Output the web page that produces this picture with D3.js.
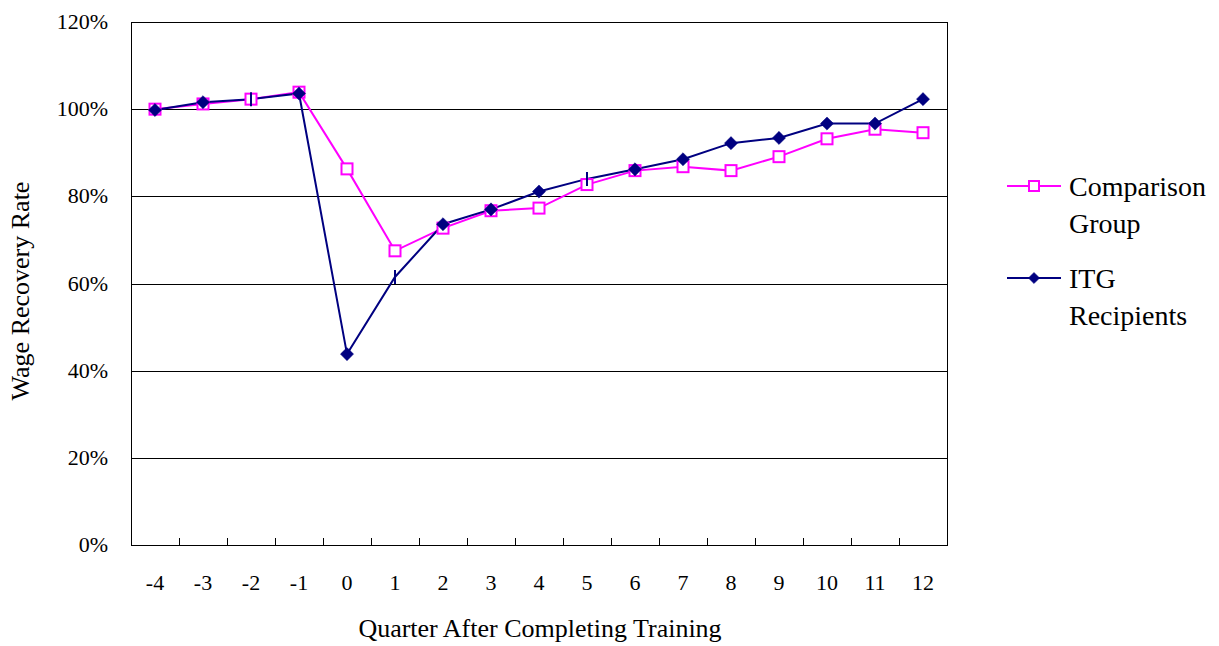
<!DOCTYPE html>
<html>
<head>
<meta charset="utf-8">
<script src="https://cdn.jsdelivr.net/npm/d3@7"></script>
<style>
  body { margin: 0; background: #fff; }
</style>
</head>
<body>
<svg id="chart" width="1219" height="646" font-family="'Liberation Serif', 'Times New Roman', 'DejaVu Serif', serif"></svg>
<script>
// Data
var quarters = ["-4", "-3", "-2", "-1", "0", "1", "2", "3", "4", "5", "6", "7", "8", "9", "10", "11", "12"];
var comparisonGroup = [100.0, 101.2, 102.3, 103.9, 86.3, 67.5, 72.7, 76.7, 77.3, 82.7, 85.9, 86.8, 85.9, 89.1, 93.2, 95.4, 94.6];
var itgRecipients = [99.8, 101.6, 102.3, 103.6, 43.8, 61.5, 73.6, 77.0, 81.1, 84.0, 86.2, 88.5, 92.2, 93.4, 96.7, 96.7, 102.3];
var yTicks = [0, 20, 40, 60, 80, 100, 120];

// Layout
var svg = d3.select("#chart");
var plot = { left: 131, top: 22, right: 947, bottom: 545 };

var xScale = d3.scaleBand().domain(quarters).range([plot.left, plot.right]);
var yScale = d3.scaleLinear().domain([0, 120]).range([plot.bottom, plot.top]);
var cx = function(d, i) { return xScale(quarters[i]) + xScale.bandwidth() / 2; };

// Gridlines
svg.append("g")
  .selectAll("line")
  .data(yTicks.slice(1, -1))
  .enter().append("line")
  .attr("x1", plot.left).attr("x2", plot.right)
  .attr("y1", function(d) { return Math.round(yScale(d)) + 0.5; })
  .attr("y2", function(d) { return Math.round(yScale(d)) + 0.5; })
  .attr("stroke", "#000").attr("stroke-width", 1);

// Plot border
svg.append("rect")
  .attr("x", plot.left + 0.5).attr("y", plot.top + 0.5)
  .attr("width", plot.right - plot.left).attr("height", plot.bottom - plot.top)
  .attr("fill", "none").attr("stroke", "#000").attr("stroke-width", 1);

// X axis ticks (inward, between categories)
svg.append("g")
  .selectAll("line")
  .data(quarters.slice(1))
  .enter().append("line")
  .attr("x1", function(d) { return Math.round(xScale(d)) + 0.5; })
  .attr("x2", function(d) { return Math.round(xScale(d)) + 0.5; })
  .attr("y1", plot.bottom).attr("y2", plot.bottom - 7)
  .attr("stroke", "#000");

// X tick labels
svg.append("g")
  .selectAll("text")
  .data(quarters)
  .enter().append("text")
  .attr("x", function(d) { return xScale(d) + xScale.bandwidth() / 2; })
  .attr("y", 590)
  .attr("text-anchor", "middle")
  .attr("font-size", 22)
  .text(function(d) { return d; });

// Y tick labels
svg.append("g")
  .selectAll("text")
  .data(yTicks)
  .enter().append("text")
  .attr("x", 108)
  .attr("y", function(d) { return yScale(d) + 7; })
  .attr("text-anchor", "end")
  .attr("font-size", 22)
  .text(function(d) { return d + "%"; });

// Axis titles
svg.append("text")
  .attr("x", 540).attr("y", 637)
  .attr("text-anchor", "middle")
  .attr("font-size", 26)
  .text("Quarter After Completing Training");

svg.append("text")
  .attr("transform", "translate(29,291) rotate(-90)")
  .attr("text-anchor", "middle")
  .attr("font-size", 26)
  .text("Wage Recovery Rate");

// Lines
var line = d3.line()
  .x(function(d, i) { return cx(d, i); })
  .y(function(d) { return yScale(d); });

var pink = "#ff00ff";
var navy = "#000080";

svg.append("path").datum(comparisonGroup)
  .attr("d", line).attr("fill", "none")
  .attr("stroke", pink).attr("stroke-width", 2);

svg.append("path").datum(itgRecipients)
  .attr("d", line).attr("fill", "none")
  .attr("stroke", navy).attr("stroke-width", 2);

// Square markers
var sq = 11;
svg.append("g")
  .selectAll("rect")
  .data(comparisonGroup)
  .enter().append("rect")
  .attr("x", function(d, i) { return cx(d, i) - sq / 2; })
  .attr("y", function(d) { return yScale(d) - sq / 2; })
  .attr("width", sq).attr("height", sq)
  .attr("fill", "#fff").attr("stroke", pink).attr("stroke-width", 2);

// Diamond markers (some drawn as thin ticks, as in the original)
var tickOnly = ["-2", "1", "5"];
var diamond = d3.symbol().type(d3.symbolDiamond2).size(110);
svg.append("g")
  .selectAll("path")
  .data(itgRecipients)
  .enter().append("path")
  .attr("transform", function(d, i) { return "translate(" + cx(d, i) + "," + yScale(d) + ")"; })
  .attr("d", function(d, i) {
    return tickOnly.indexOf(quarters[i]) >= 0 ? "M0,-7L0,7" : diamond();
  })
  .attr("fill", navy).attr("stroke", navy)
  .attr("stroke-width", function(d, i) { return tickOnly.indexOf(quarters[i]) >= 0 ? 2 : 0.5; });

// Legend
var legend = [
  { name: ["Comparison", "Group"], color: pink, type: "square", y: 186 },
  { name: ["ITG", "Recipients"], color: navy, type: "diamond", y: 278 }
];

var lg = svg.append("g").selectAll("g")
  .data(legend)
  .enter().append("g")
  .attr("transform", function(d) { return "translate(1007," + d.y + ")"; });

lg.append("line")
  .attr("x1", 0).attr("x2", 54)
  .attr("stroke", function(d) { return d.color; }).attr("stroke-width", 2);

lg.append("path")
  .attr("transform", "translate(27,0)")
  .attr("d", function(d) {
    return d.type === "square" ? "M-5,-5H5V5H-5Z" : d3.symbol().type(d3.symbolDiamond2).size(80)();
  })
  .attr("fill", function(d) { return d.type === "square" ? "#fff" : d.color; })
  .attr("stroke", function(d) { return d.color; })
  .attr("stroke-width", function(d) { return d.type === "square" ? 2 : 0.5; });

lg.selectAll("text")
  .data(function(d) { return d.name; })
  .enter().append("text")
  .attr("x", 62)
  .attr("y", function(d, i) { return 10 + i * 37; })
  .attr("font-size", 28)
  .text(function(d) { return d; });
</script>
</body>
</html>
